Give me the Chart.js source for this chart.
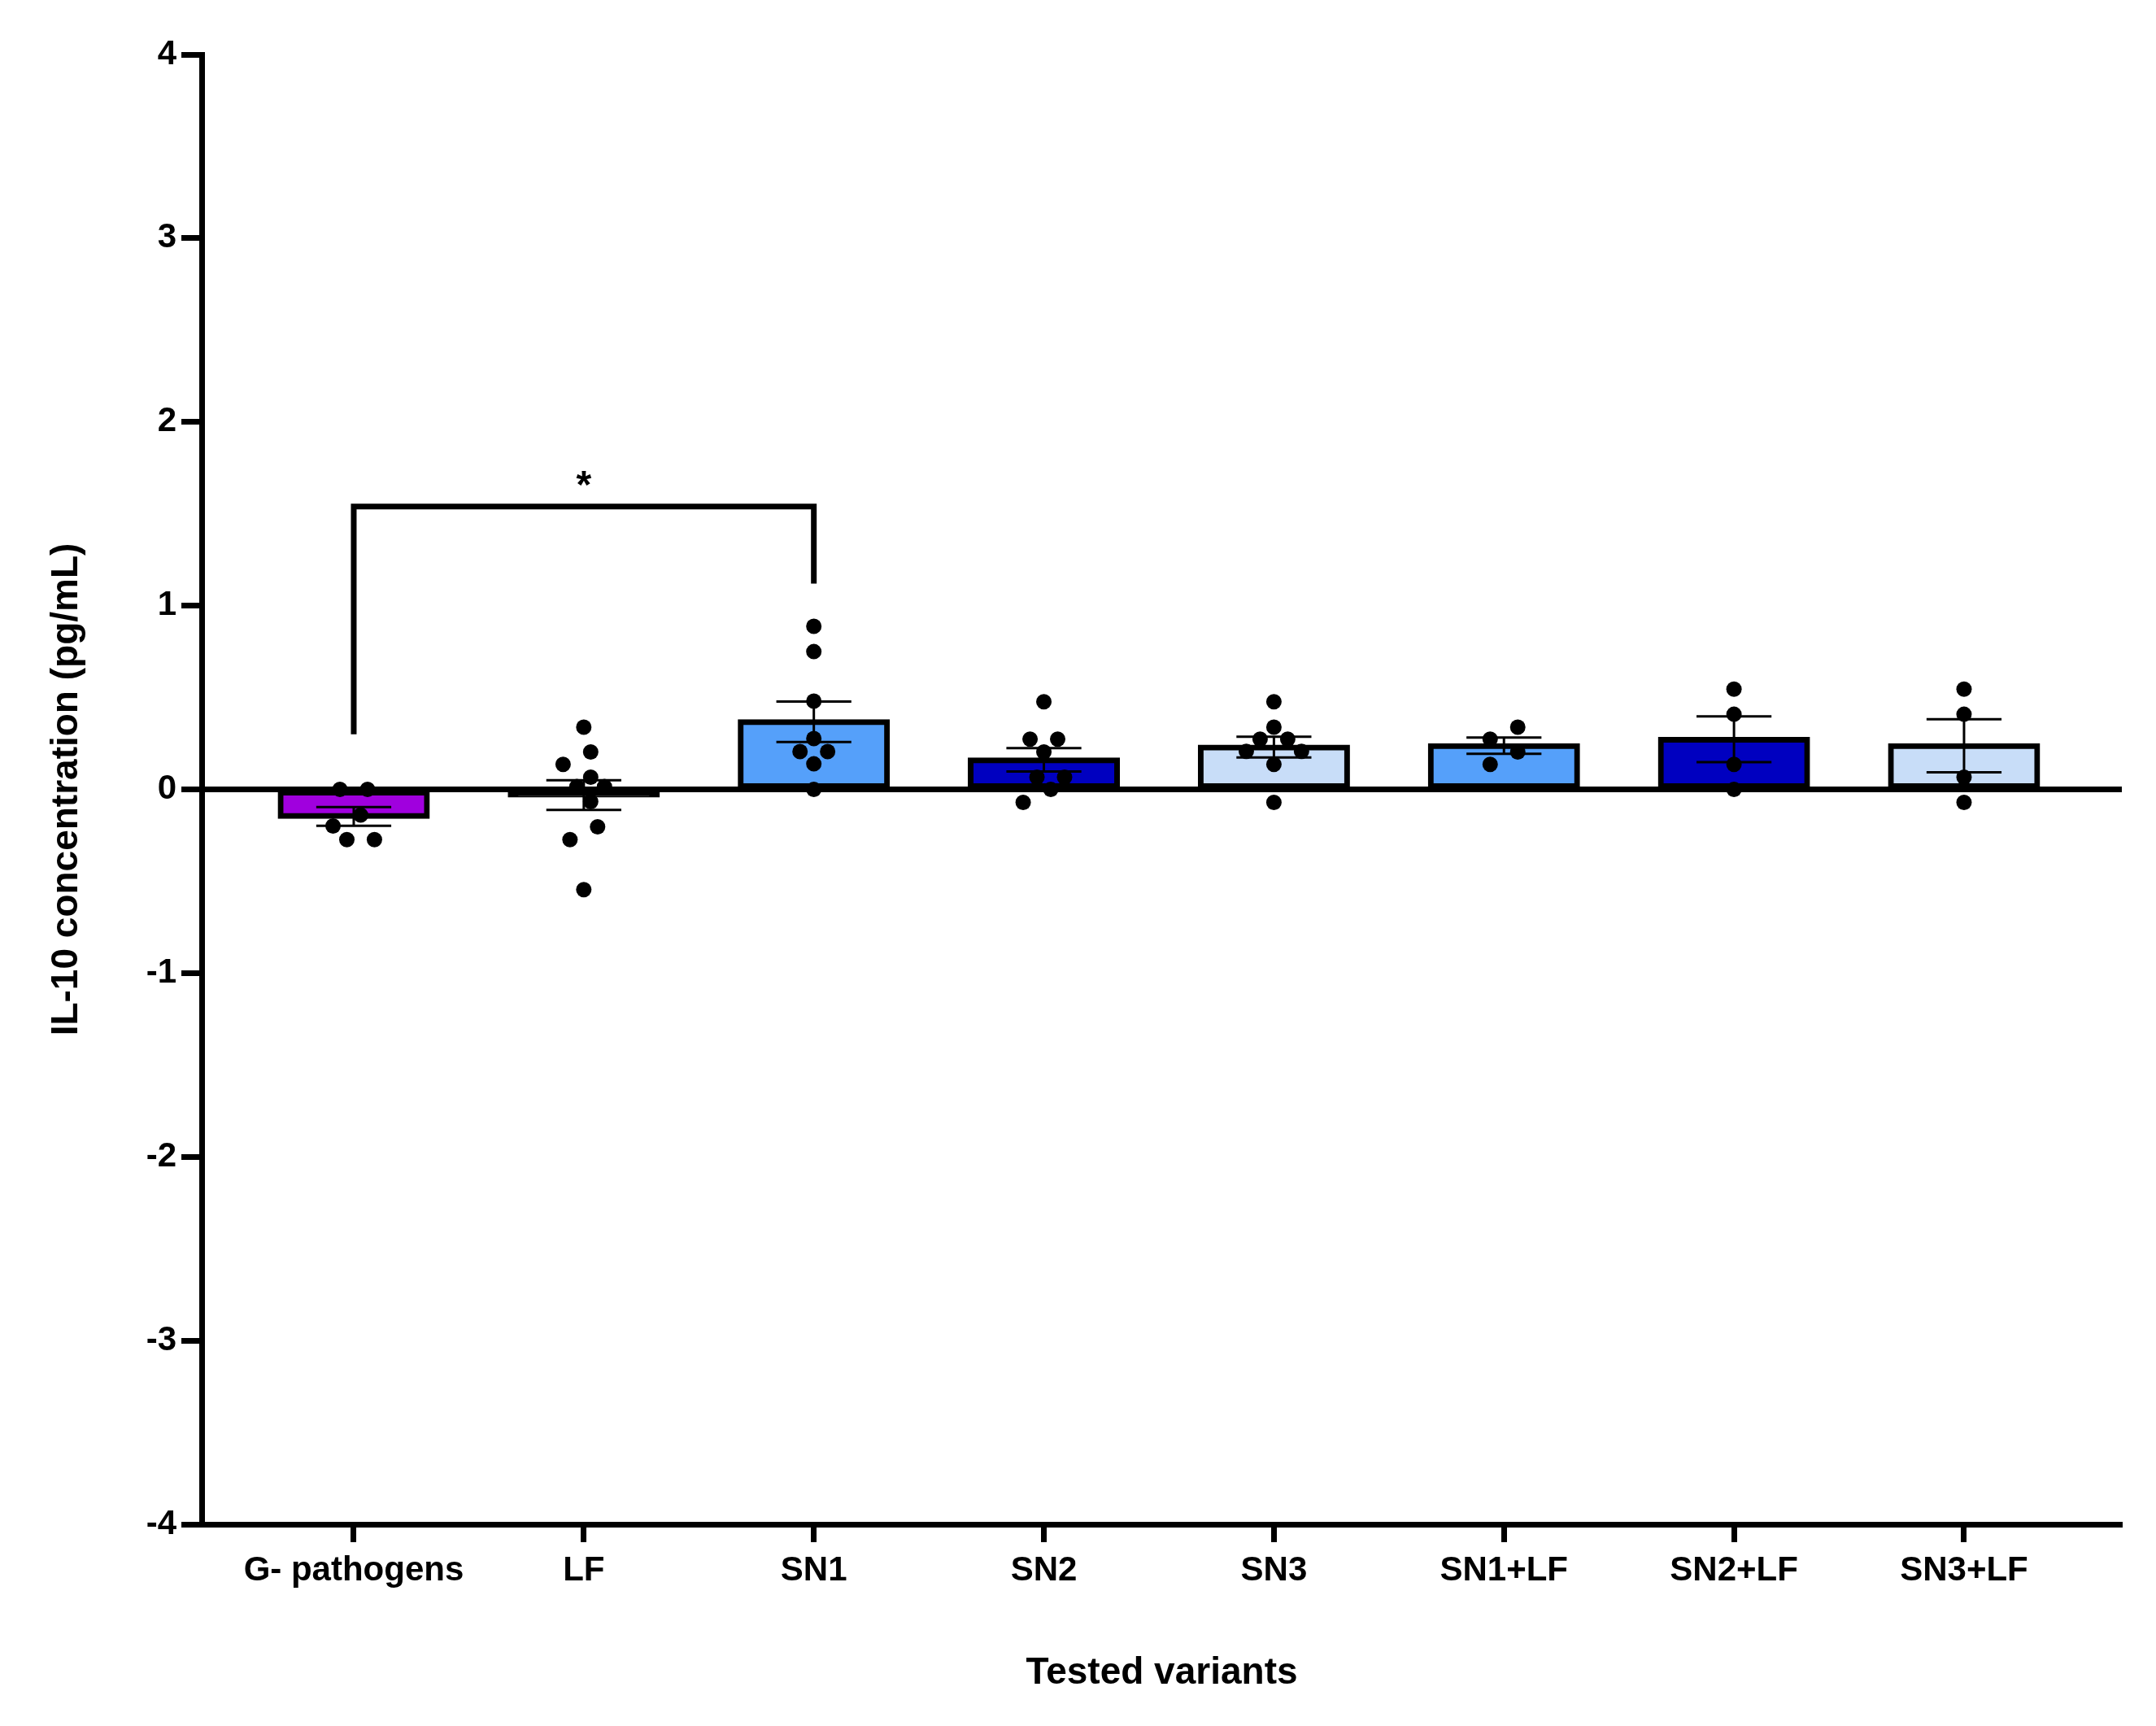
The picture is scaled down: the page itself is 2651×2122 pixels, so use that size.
<!DOCTYPE html>
<html>
<head>
<meta charset="utf-8">
<title>IL-10 concentration</title>
<script src="https://cdn.jsdelivr.net/npm/chart.js@4.4.1/dist/chart.umd.min.js"></script>
<style>
    html, body { margin: 0; padding: 0; background: #fff; }
    #wrap { width: 2651px; height: 2122px; }
</style>
</head>
<body>
<div id="wrap"><canvas id="chart"></canvas></div>
<script>
// ── Data (pg/mL) ──────────────────────────────────────────────────────────
const categories = ["G- pathogens", "LF", "SN1", "SN2", "SN3", "SN1+LF", "SN2+LF", "SN3+LF"];

// individual replicates per variant
const gPathogens = [0, 0, -0.14, -0.199, -0.273, -0.273];
const lf         = [0.339, 0.204, 0.136, 0.066, 0.015, 0.015, -0.066, -0.204, -0.273, -0.546];
const sn1        = [0.888, 0.75, 0.48, 0.277, 0.206, 0.206, 0.139, 0];
const sn2        = [0.477, 0.273, 0.273, 0.204, 0.066, 0.066, 0, -0.071];
const sn3        = [0.477, 0.339, 0.273, 0.273, 0.207, 0.207, 0.136, -0.071];
const sn1Lf      = [0.339, 0.273, 0.204, 0.136];
const sn2Lf      = [0.546, 0.409, 0.136, 0];
const sn3Lf      = [0.546, 0.409, 0.066, -0.071];

const yTicks = [-4, -3, -2, -1, 0, 1, 2, 3, 4];

// significance bracket G- pathogens vs SN1: left foot, bar level, right foot
const sigPair = [0, 2];
const sigLevels = [0.30, 1.54, 1.12];
const sigMark = "*";

// ── Styles ────────────────────────────────────────────────────────────────
const FONT = "'Liberation Sans', Arial, Helvetica, sans-serif";
const barColors = ["#A000DE", "#000000", "#55A0FA", "#0000C0", "#C8DDF8", "#55A0FA", "#0000C0", "#C8DDF8"];
const CAP = 0.163;          // half width of error bar caps (category units)
const SPREAD_STEP = 0.12;   // horizontal step of spread dots (category units)
const X_TO_Y = 1.252;       // one category unit expressed in y units on this canvas
const DOT_GAP = 0.089;      // minimum distance between dot centres (y units)

const replicates = [gPathogens, lf, sn1, sn2, sn3, sn1Lf, sn2Lf, sn3Lf];

const mean = (a) => a.reduce((s, v) => s + v, 0) / a.length;
function sem(a) {
    const m = mean(a);
    const v = a.reduce((s, x) => s + (x - m) ** 2, 0) / (a.length - 1);
    return Math.sqrt(v / a.length);
}

const means = replicates.map(mean);
const sems = replicates.map(sem);

// Prism-like spreading of dots with similar values (returns offsets in steps)
function spreadDots(values) {
    const sorted = values.slice().sort((a, b) => b - a);
    const placed = [];
    const hits = (off, y) => placed.some((p) =>
        Math.hypot((p.off - off) * SPREAD_STEP * X_TO_Y, p.y - y) < DOT_GAP);

    let i = 0;
    while (i < sorted.length) {
        let j = i;
        while (j < sorted.length && Math.abs(sorted[j] - sorted[i]) < 0.005) j++;
        const n = j - i;
        const y = sorted[i];
        let offsets = null;
        if (n === 1) {
            for (let k = 0; !offsets; k++) {
                const cands = k === 0 ? [0] : [-k, k];
                for (const c of cands) {
                    if (!hits(c, y)) { offsets = [c]; break; }
                }
            }
        } else {
            for (let s = 1; !offsets; s++) {
                const pattern = Array.from({ length: n }, (_, k) => (k - (n - 1) / 2) * s);
                if (pattern.every((o) => !hits(o, y))) offsets = pattern;
            }
        }
        offsets.forEach((o) => placed.push({ y, off: o }));
        i = j;
    }

    // centre each run of touching dots
    let start = 0;
    for (let k = 1; k <= placed.length; k++) {
        if (k === placed.length || placed[k - 1].y - placed[k].y >= DOT_GAP) {
            const run = placed.slice(start, k);
            const lo = Math.min(...run.map((p) => p.off));
            const hi = Math.max(...run.map((p) => p.off));
            run.forEach((p) => { p.off -= (lo + hi) / 2; });
            start = k;
        }
    }
    return placed;
}

const dotPoints = [];
replicates.forEach((vals, i) => {
    spreadDots(vals).forEach((p) => dotPoints.push({ x: i + p.off * SPREAD_STEP, y: p.y }));
});

const errorPoints = [];
means.forEach((m, i) => {
    const lo = m - sems[i];
    const hi = m + sems[i];
    errorPoints.push(
        { x: i, y: lo }, { x: i, y: hi }, { x: i, y: null },
        { x: i - CAP, y: hi }, { x: i + CAP, y: hi }, { x: i, y: null },
        { x: i - CAP, y: lo }, { x: i + CAP, y: lo }, { x: i, y: null }
    );
});

const bracketPoints = [
    { x: sigPair[0], y: sigLevels[0] },
    { x: sigPair[0], y: sigLevels[1] },
    { x: sigPair[1], y: sigLevels[1] },
    { x: sigPair[1], y: sigLevels[2] }
];

// asterisk above the bracket
const sigLabelPlugin = {
    id: "sigLabel",
    afterDatasetsDraw(chart) {
        const { ctx, scales: { x, y } } = chart;
        ctx.save();
        ctx.font = `bold 48px ${FONT}`;
        ctx.fillStyle = "#000";
        ctx.textAlign = "center";
        ctx.textBaseline = "alphabetic";
        ctx.fillText(sigMark, x.getPixelForValue((sigPair[0] + sigPair[1]) / 2), y.getPixelForValue(sigLevels[1]) - 11);
        ctx.restore();
    }
};

Chart.defaults.font.family = FONT;
Chart.defaults.color = "#000";

new Chart(document.getElementById("chart").getContext("2d"), {
    type: "bar",
    data: {
        datasets: [
            {
                type: "scatter",
                data: dotPoints,
                backgroundColor: "#000",
                borderWidth: 0,
                pointRadius: 9.5,
                pointHoverRadius: 9.5,
                order: 0
            },
            {
                type: "line",
                data: errorPoints,
                borderColor: "#000",
                borderWidth: 3,
                pointRadius: 0,
                fill: false,
                tension: 0,
                spanGaps: false,
                order: 1
            },
            {
                type: "line",
                data: bracketPoints,
                borderColor: "#000",
                borderWidth: 7,
                borderJoinStyle: "miter",
                borderCapStyle: "butt",
                pointRadius: 0,
                fill: false,
                tension: 0,
                order: 2
            },
            {
                type: "bar",
                data: means.map((m, i) => ({ x: i, y: m })),
                backgroundColor: barColors,
                borderColor: "#000",
                borderWidth: 7,
                borderSkipped: false,
                inflateAmount: 3,
                categoryPercentage: 1,
                barPercentage: 0.64,
                order: 3
            }
        ]
    },
    options: {
        responsive: true,
        maintainAspectRatio: false,
        animation: false,
        events: [],
        layout: { padding: { top: 67, right: 42, left: 0, bottom: 0 } },
        plugins: {
            legend: { display: false },
            tooltip: { enabled: false }
        },
        scales: {
            x: {
                type: "linear",
                min: -0.661,
                max: 7.686,
                offset: false,
                afterBuildTicks: (axis) => { axis.ticks = categories.map((_, i) => ({ value: i })); },
                afterFit: (axis) => { axis.height = 248; },
                border: { color: "#000", width: 7 },
                grid: { offset: false, drawOnChartArea: false, tickColor: "#000", tickWidth: 7, tickLength: 22 },
                ticks: {
                    callback: (v) => categories[v],
                    autoSkip: false,
                    maxRotation: 0,
                    padding: 10,
                    font: { size: 42, weight: "bold" }
                },
                title: {
                    display: true,
                    text: "Tested variants",
                    font: { size: 46, weight: "bold" },
                    padding: { top: 0, bottom: 37 }
                }
            },
            y: {
                min: -4,
                max: 4,
                afterBuildTicks: (axis) => { axis.ticks = yTicks.map((v) => ({ value: v })); },
                afterFit: (axis) => { axis.width = 248; },
                border: { color: "#000", width: 7 },
                grid: {
                    color: (c) => (c.tick && c.tick.value === 0 ? "#000" : "rgba(0,0,0,0)"),
                    lineWidth: 7,
                    tickColor: "#000",
                    tickWidth: 7,
                    tickLength: 25
                },
                ticks: { padding: 6, font: { size: 42, weight: "bold" } },
                title: {
                    display: true,
                    text: "IL-10 concentration (pg/mL)",
                    font: { size: 46, weight: "bold" },
                    padding: { top: 55, bottom: 0 }
                }
            }
        }
    },
    plugins: [sigLabelPlugin]
});
</script>
</body>
</html>
